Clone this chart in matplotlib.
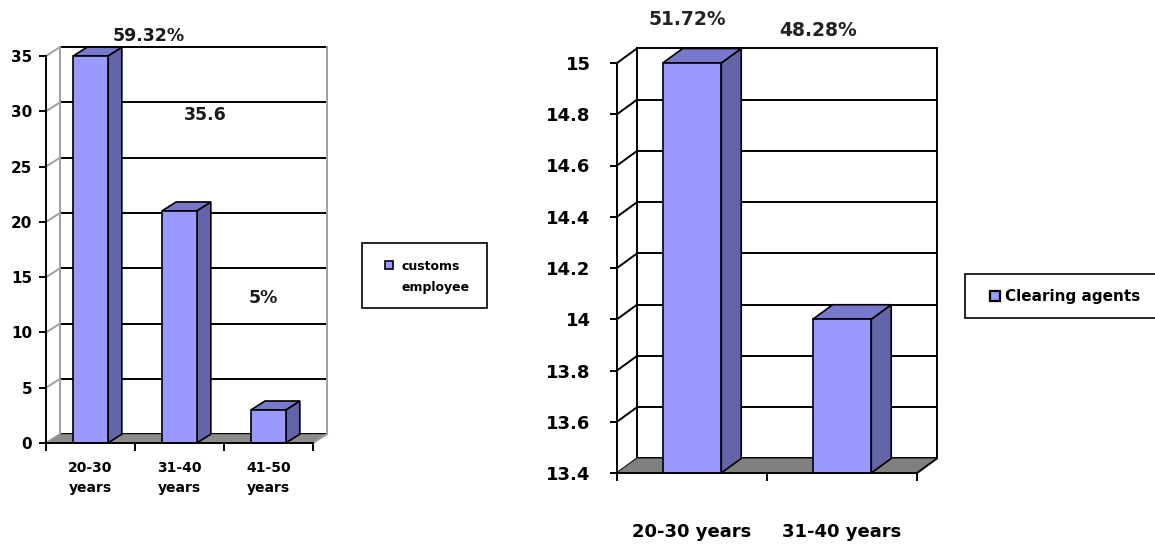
import matplotlib
matplotlib.use("Agg")
import matplotlib.pyplot as plt
import numpy as np
from matplotlib.patches import Polygon, Rectangle

plt.rcParams['font.family'] = ['DejaVu Sans']

# customs employees by age group
customs_cats   = ["20-30\nyears", "31-40\nyears", "41-50\nyears"]
customs_counts = [35, 21, 3]
customs_labels = ["59.32%", "35.6", "5%"]
customs_ticks  = [0, 5, 10, 15, 20, 25, 30, 35]

# clearing agents by age group
agent_cats   = ["20-30 years", "31-40 years"]
agent_counts = [15, 14]
agent_labels = ["51.72%", "48.28%"]
agent_ticks  = [13.4, 13.6, 13.8, 14.0, 14.2, 14.4, 14.6, 14.8, 15.0]

FRONT = "#9999FF"
SIDE  = "#6464A8"
TOP   = "#7878CC"


def bars_3d(ax, values, ticks, dx, dy, wall_edge, floor_color, width=0.39):
    n = len(values)
    x0, x1 = -0.5, n - 0.5
    base, top = ticks[0], ticks[-1]
    ax.set_xlim(x0, x1)
    ax.set_ylim(base, top)

    # back wall and side wall grid
    for v in ticks:
        ax.plot([x0 + dx, x1 + dx], [v + dy, v + dy], color="black", lw=1.4,
                zorder=1, clip_on=False)
        ax.plot([x0, x0 + dx], [v, v + dy], color=wall_edge, lw=1.4,
                zorder=1, clip_on=False)
    ax.plot([x0 + dx, x0 + dx], [base + dy, top + dy], color=wall_edge, lw=1.4,
            zorder=1, clip_on=False)
    ax.plot([x1 + dx, x1 + dx], [base + dy, top + dy], color=wall_edge, lw=1.4,
            zorder=1, clip_on=False)

    # floor
    ax.add_patch(Polygon([(x0, base), (x1, base), (x1 + dx, base + dy), (x0 + dx, base + dy)],
                         closed=True, facecolor=floor_color, edgecolor="none",
                         zorder=2, clip_on=False))
    ax.plot([x1, x1 + dx], [base, base + dy], color=wall_edge, lw=1.4,
            zorder=2, clip_on=False)

    xs = np.arange(n)
    for x, v in zip(xs, values):
        l, r = x - width / 2, x + width / 2
        ax.add_patch(Polygon([(r, base), (r + dx, base + dy), (r + dx, v + dy), (r, v)],
                             closed=True, facecolor=SIDE, edgecolor="black", lw=1.2,
                             zorder=3, clip_on=False))
        ax.add_patch(Polygon([(l, v), (r, v), (r + dx, v + dy), (l + dx, v + dy)],
                             closed=True, facecolor=TOP, edgecolor="black", lw=1.2,
                             zorder=3, clip_on=False))
    ax.bar(xs, np.array(values) - base, bottom=base, width=width, color=FRONT,
           edgecolor="black", linewidth=1.2, zorder=4, clip_on=False)

    for s in ["top", "right"]:
        ax.spines[s].set_visible(False)
    for s in ["left", "bottom"]:
        ax.spines[s].set_linewidth(1.4)
        ax.spines[s].set_zorder(5)
    ax.set_xticks(np.arange(n + 1) - 0.5, minor=True)
    ax.tick_params(axis="x", which="minor", length=6, width=1.4, direction="out")
    ax.tick_params(axis="x", which="major", length=0)
    ax.tick_params(axis="y", length=5, width=1.4)
    ax.patch.set_visible(False)
    return xs


fig = plt.figure(figsize=(11.55, 5.46), dpi=100)

# left chart
ax1 = fig.add_axes([46 / 1155, 103 / 546, 267 / 1155, 387 / 546])
xs = bars_3d(ax1, customs_counts, customs_ticks, dx=0.157, dy=0.8,
             wall_edge="#A0A0A0", floor_color="#8C8C8C")
ax1.set_yticks(customs_ticks)
ax1.set_yticklabels([str(t) for t in customs_ticks], fontsize=11, fontweight="bold")
ax1.tick_params(axis="y", pad=5)
ax1.set_xticks(xs)
ax1.set_xticklabels(customs_cats, fontsize=10, fontweight="bold", linespacing=1.5)
ax1.tick_params(axis="x", which="major", pad=13)
for (tx, ty), s in zip([(0.657, 36.8), (1.287, 29.7), (1.938, 13.1)], customs_labels):
    ax1.text(tx, ty, s, ha="center", va="center", fontsize=12.5, fontweight="bold",
             color="#1a1a1a", clip_on=False)

# right chart
ax2 = fig.add_axes([617 / 1155, 73 / 546, 300 / 1155, 410 / 546])
xs = bars_3d(ax2, agent_counts, agent_ticks, dx=0.133, dy=0.0566,
             wall_edge="black", floor_color="#808080")
ax2.set_yticks(agent_ticks)
ax2.set_yticklabels([f"{t:g}" for t in agent_ticks], fontsize=13, fontweight="bold")
ax2.tick_params(axis="y", pad=14)
ax2.set_xticks(xs)
ax2.set_xticklabels(agent_cats, fontsize=13, fontweight="bold")
ax2.tick_params(axis="x", which="major", pad=36)
for (tx, ty), s in zip([(-0.033, 15.168), (0.84, 15.125)], agent_labels):
    ax2.text(tx, ty, s, ha="center", va="center", fontsize=13.5, fontweight="bold",
             color="#222222", clip_on=False)

# legends
W, H = 1155, 546
def px(x, y):
    return x / W, 1 - y / H

fig.patches.append(Rectangle(px(362, 308), 125 / W, 65 / H, transform=fig.transFigure,
                             facecolor="white", edgecolor="black", lw=1.2))
fig.patches.append(Rectangle(px(385, 269), 8 / W, 8 / H, transform=fig.transFigure,
                             facecolor=FRONT, edgecolor="black", lw=1.2))
fig.text(*px(401, 266), "customs", fontsize=9, fontweight="bold", va="center")
fig.text(*px(401, 288), "employee", fontsize=9, fontweight="bold", va="center")

fig.patches.append(Rectangle(px(965, 318), 200 / W, 44 / H, transform=fig.transFigure,
                             facecolor="white", edgecolor="black", lw=1.2))
fig.patches.append(Rectangle(px(990, 301), 10 / W, 10 / H, transform=fig.transFigure,
                             facecolor=FRONT, edgecolor="black", lw=1.6))
fig.text(*px(1005, 296), "Clearing agents", fontsize=11, fontweight="bold", va="center")

fig.savefig("out.png", dpi=100)
